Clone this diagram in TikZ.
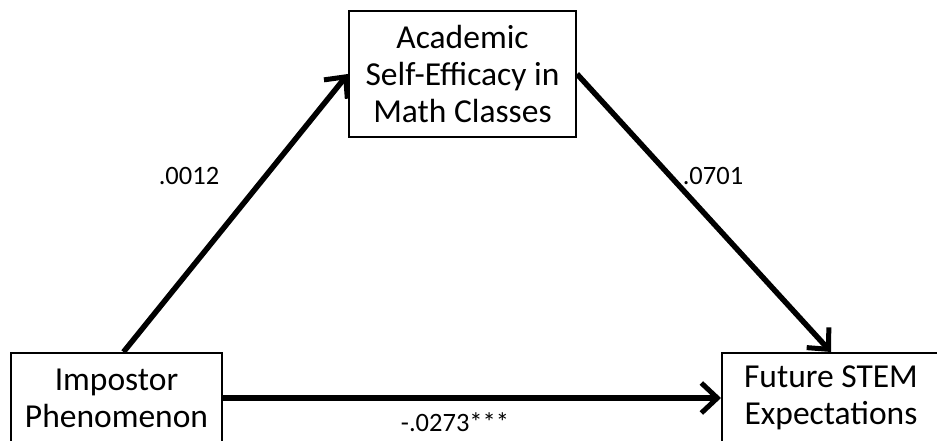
\documentclass[tikz,border=0pt]{standalone}
\usepackage{fontspec}
\setmainfont{Carlito}
\usetikzlibrary{arrows.meta, positioning}
\tikzset{
	varbox/.style={rectangle, draw=black, line width=2pt, fill=white, inner sep=0pt, align=center, font=\fontsize{33.5}{37}\selectfont},
	coef/.style={inner sep=0pt, font=\fontsize{26.5}{30}\selectfont},
	patharrow/.style={-{Straight Barb[length=16pt, width=30pt, line width=5pt]}, line width=5.5pt, draw=black},
}

\begin{document}
\begin{tikzpicture}[x=1pt, y=-1pt]
		\useasboundingbox[fill=white] (0,0) rectangle (937,441);
		\node[varbox, minimum width=227pt, minimum height=126pt] (selfeff) at (462.5,74) {Academic\\Self-Efficacy in\\Math Classes};
		\node[varbox, minimum width=211pt, minimum height=90pt] (impostor) at (116.5,398) {Impostor\\Phenomenon};
		\node[varbox, minimum width=218pt, minimum height=90pt] (stem) at (831,398) {Future STEM\\Expectations};
		\draw[patharrow] ([xshift=7pt]impostor.north) -- (selfeff.west);
		\draw[patharrow] (selfeff.east) -- (stem.north);
		\draw[patharrow] (impostor.east) -- (stem.west);
		\node[coef] (a) at (189,176) {.0012};
		\node[coef] (b) at (713,176) {.0701};
		\node[coef] (c) at (455,422) {-.0273***};
	\end{tikzpicture}
\end{document}
